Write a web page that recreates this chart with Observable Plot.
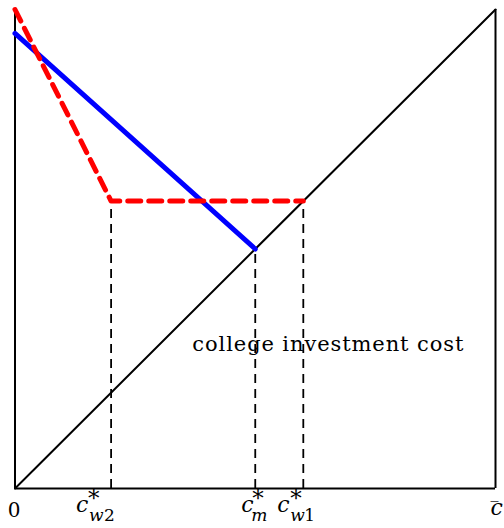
<!DOCTYPE html>
<html>
<head>
<meta charset="utf-8">
<script src="https://cdn.jsdelivr.net/npm/d3@7"></script>
<script src="https://cdn.jsdelivr.net/npm/@observablehq/plot@0.6"></script>
<style>
  html, body { margin: 0; padding: 0; background: #fff; }
  .annot text { letter-spacing: 0.9px; }
</style>
</head>
<body>
<div id="chart"></div>
<script>
// ---- data ----
const cW2 = 0.2, cM = 0.5, cW1 = 0.6, cBar = 1.0;
const blueX = [0, cM];
const blueY = [0.95, 0.5];
const redX = [0, cW2, cW1];
const redY = [1.0, 0.6, 0.6];
const diagX = [0, 1];
const diagY = [0, 1];
const guideX = [cW2, cM, cW1];
const guideTop = [0.6, 0.5, 0.6];
const tickX = [0, cW2, cM, cW1, cBar];
const tickMain = ["0", "c", "c", "c", "c"];
const tickSup = ["", "*", "*", "*", ""];
const tickSubLetter = ["", "w", "m", "w", ""];
const tickSubDigit = ["", "2", "", "1", ""];
const tickBar = [false, false, false, false, true];
const annotation = "college investment cost";
const annotX = 0.652, annotY = 0.302;

// ---- build tables ----
const blue = blueX.map((x, i) => ({x, y: blueY[i]}));
const red = redX.map((x, i) => ({x, y: redY[i]}));
const diag = diagX.map((x, i) => ({x, y: diagY[i]}));
const guides = guideX.map((x, i) => ({x, y1: 0, y2: guideTop[i]}));

const serif = "'DejaVu Serif', 'Liberation Serif', serif";

// glyph offsets (px) of the math tick labels, relative to each tick
const layout = [
  {main: -1, mainAnchor: "middle"},
  {main: -35, sup: -23, subL: -22, subD: -7},
  {main: -14, sup: -3, subL: -4},
  {main: -26, sup: -13, subL: -13, subD: 1},
  {main: -5, bar: -5, mainDy: 26}
];

const labelMarks = [];
tickX.forEach((x, i) => {
  const L = layout[i];
  const datum = [{x}];
  const common = {x: "x", frameAnchor: "bottom", fill: "black"};
  const isDigit = tickMain[i] === "0";
  labelMarks.push(Plot.text(datum, {...common, text: () => tickMain[i],
    textAnchor: L.mainAnchor || "start", dx: L.main,
    dy: isDigit ? 28 : (L.mainDy || 23),
    fontSize: isDigit ? 20 : 22, fontStyle: isDigit ? "normal" : "italic"}));
  if (tickSup[i]) labelMarks.push(Plot.text(datum, {...common, text: () => tickSup[i],
    textAnchor: "start", dx: L.sup, dy: 17, fontSize: 23}));
  if (tickSubLetter[i]) labelMarks.push(Plot.text(datum, {...common, text: () => tickSubLetter[i],
    textAnchor: "start", dx: L.subL, dy: 32, fontSize: 17, fontStyle: "italic"}));
  if (tickSubDigit[i]) labelMarks.push(Plot.text(datum, {...common, text: () => tickSubDigit[i],
    textAnchor: "start", dx: L.subD, dy: 32, fontSize: 17}));
  if (tickBar[i]) labelMarks.push(Plot.text(datum, {...common, text: () => "\u203E",
    textAnchor: "start", dx: L.bar, dy: 25, fontSize: 16}));
});

const plot = Plot.plot({
  width: 504,
  height: 528,
  marginLeft: 14.5,
  marginRight: 9,
  marginTop: 9,
  marginBottom: 40,
  x: {domain: [0, 1], axis: null},
  y: {domain: [0, 1], axis: null},
  style: {fontFamily: serif, background: "#fff", overflow: "visible"},
  marks: [
    // frame (left, right, bottom)
    Plot.ruleX([0, 1], {y1: 0, y2: 1, stroke: "black", strokeWidth: 2}),
    Plot.ruleY([0], {x1: 0, x2: 1, stroke: "black", strokeWidth: 2}),
    // 45-degree line
    Plot.line(diag, {x: "x", y: "y", stroke: "black", strokeWidth: 2}),
    // dashed guides
    Plot.ruleX(guides, {x: "x", y1: "y1", y2: "y2", stroke: "black", strokeWidth: 1.8, strokeDasharray: "9,6"}),
    // blue line
    Plot.line(blue, {x: "x", y: "y", stroke: "#0000ff", strokeWidth: 5}),
    // red dashed
    Plot.line(red, {x: "x", y: "y", stroke: "#ff0000", strokeWidth: 5, strokeDasharray: "13,8"}),
    // annotation
    Plot.text([annotation], {x: annotX, y: annotY, text: d => d, fontSize: 21, textAnchor: "middle", fill: "black", className: "annot"}),
    ...labelMarks
  ]
});
document.getElementById("chart").appendChild(plot);
</script>
</body>
</html>
